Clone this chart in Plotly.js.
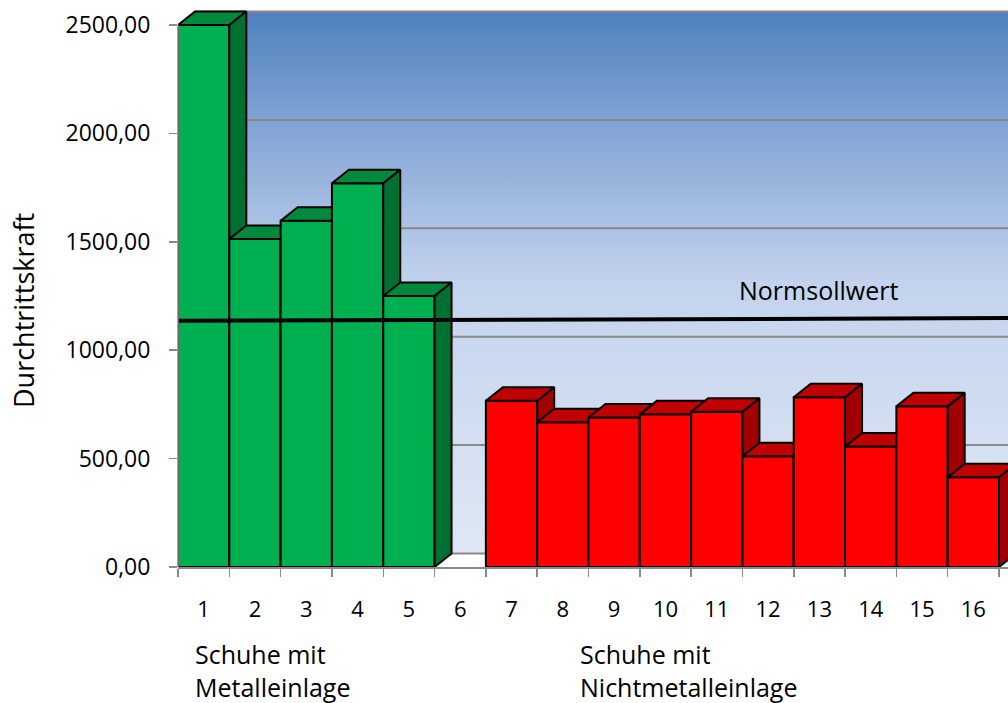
<!DOCTYPE html>
<html>
<head>
<meta charset="utf-8">
<script src="https://cdn.plot.ly/plotly-3.0.1.min.js"></script>
<style>html,body{margin:0;padding:0;background:#fff;}#chart{width:1008px;height:703px;}</style>
</head>
<body>
<div id="chart"></div>
<script>
// ---- data ----
const categories = ['1','2','3','4','5','6','7','8','9','10','11','12','13','14','15','16'];
const values = [2500, 1513, 1597, 1770, 1250, null, 767, 668, 690, 704, 716, 511, 783, 556, 741, 414];
const groupOfCategory = [0,0,0,0,0,null,1,1,1,1,1,1,1,1,1,1];
const groupLabels = [['Schuhe mit','Metalleinlage'], ['Schuhe mit','Nichtmetalleinlage']];
const groupLabelStart = [0.79, 8.3];
const normLabel = 'Normsollwert';
const normValues = [1136, 1148];           // left end, right end
const yTickValues = [0, 500, 1000, 1500, 2000, 2500];
const yTitle = 'Durchtrittskraft';

// ---- style / geometry ----
const W = 1008, H = 703;
const margin = {l: 178, r: 0, t: 10, b: 136};
const plotW = W - margin.l - margin.r, plotH = H - margin.t - margin.b;
const pxPerCat = 821 / categories.length;
const pxPerVal = 542 / 2500;
const xRange = [0.5, 0.5 + plotW / pxPerCat];
const yRange = [0, plotH / pxPerVal];
const depth = {dx: 17 / pxPerCat, dy: 13.5 / pxPerVal};
const faceColors = [
  {front: '#00b050', top: '#00883c', side: '#007032'},
  {front: '#ff0000', top: '#c00000', side: '#a00000'}
];
const fontFamily = '"Open Sans", "Noto Sans", sans-serif';

const traces = [];
// back wall with gradient
const wx0 = 0.5 + depth.dx, wx1 = xRange[1] + depth.dx + 1;
const wy0 = depth.dy, wy1 = yTickValues[yTickValues.length - 1] + depth.dy;
traces.push({
  type: 'scatter', mode: 'lines', x: [wx0, wx1, wx1, wx0, wx0], y: [wy0, wy0, wy1, wy1, wy0],
  fill: 'toself', line: {width: 0, color: 'rgba(0,0,0,0)'},
  fillgradient: {type: 'vertical', colorscale: [[0, '#dfe7f4'], [0.5, '#c3d3ed'], [0.8, '#80a3d4'], [1, '#4f81bd']]},
  hoverinfo: 'skip', showlegend: false
});
// back wall gridlines
yTickValues.forEach(v => {
  traces.push({
    type: 'scatter', mode: 'lines', x: [wx0, wx1], y: [v + depth.dy, v + depth.dy],
    line: {color: '#898989', width: 2}, hoverinfo: 'skip', showlegend: false
  });
});
// 3D bars, painted left to right
categories.forEach((c, i) => {
  const v = values[i];
  if (v === null || v === undefined) return;
  const g = groupOfCategory[i];
  const col = faceColors[g];
  const xc = i + 1, xl = xc - 0.5, xr = xc + 0.5;
  const common = {type: 'scatter', mode: 'lines', fill: 'toself', line: {color: '#000', width: 2}, hoverinfo: 'skip', showlegend: false};
  traces.push(Object.assign({}, common, {x: [xl, xr, xr, xl, xl], y: [0, 0, v, v, 0], fillcolor: col.front}));
  traces.push(Object.assign({}, common, {x: [xl, xr, xr + depth.dx, xl + depth.dx, xl], y: [v, v, v + depth.dy, v + depth.dy, v], fillcolor: col.top}));
  traces.push(Object.assign({}, common, {x: [xr, xr + depth.dx, xr + depth.dx, xr, xr], y: [0, depth.dy, v + depth.dy, v, 0], fillcolor: col.side}));
});
// norm line
traces.push({
  type: 'scatter', mode: 'lines', x: [xRange[0], xRange[1]], y: normValues,
  line: {color: '#000', width: 4}, hoverinfo: 'skip', showlegend: false
});

const annotations = [];
annotations.push({
  xref: 'x', yref: 'y', x: 11.39, y: normValues[1] + 130, text: normLabel,
  xanchor: 'left', yanchor: 'middle', showarrow: false,
  font: {family: fontFamily, size: 25, color: '#000'}
});
annotations.push({
  xref: 'paper', yref: 'paper', x: (23 - margin.l) / plotW, y: (H - margin.b - 311) / plotH,
  text: yTitle, textangle: -90, xanchor: 'center', yanchor: 'middle', showarrow: false,
  font: {family: fontFamily, size: 27, color: '#000'}
});
groupLabels.forEach((lines, gi) => {
  lines.forEach((t, li) => {
    annotations.push({
      xref: 'x', yref: 'paper', x: groupLabelStart[gi], y: (H - margin.b - (654 + li * 33)) / plotH,
      text: t, xanchor: 'left', yanchor: 'middle', showarrow: false,
      font: {family: fontFamily, size: 25, color: '#000'}
    });
  });
});

const boundaries = categories.map((c, i) => i + 0.5).concat([categories.length + 0.5]);

const layout = {
  width: W, height: H, margin: margin,
  paper_bgcolor: '#fff', plot_bgcolor: 'rgba(0,0,0,0)',
  separators: ',.',
  showlegend: false,
  xaxis: {
    range: xRange, fixedrange: true, showgrid: false, zeroline: false,
    tickmode: 'array', tickvals: categories.map((c, i) => i + 1), ticktext: categories,
    ticks: '', ticklabelstandoff: 22,
    tickfont: {family: fontFamily, size: 22, color: '#000'},
    showline: true, linecolor: '#8a8a8a', linewidth: 1.5,
    minor: {tickmode: 'array', tickvals: boundaries, ticks: 'outside', ticklen: 8, tickwidth: 1.5, tickcolor: '#8a8a8a', showgrid: false}
  },
  yaxis: {
    range: yRange, fixedrange: true, showgrid: false, zeroline: false, showline: false,
    tickmode: 'array', tickvals: yTickValues, tickformat: '.2f',
    ticks: 'outside', ticklen: 8, tickwidth: 1.5, tickcolor: '#8a8a8a', ticklabelstandoff: 14,
    tickfont: {family: fontFamily, size: 23, color: '#000'}
  },
  shapes: [{
    type: 'line', xref: 'paper', yref: 'y', x0: 0, x1: 0, y0: 0, y1: yTickValues[yTickValues.length - 1],
    line: {color: '#8a8a8a', width: 1.5}, layer: 'above'
  }],
  annotations: annotations
};

Plotly.newPlot('chart', traces, layout, {displayModeBar: false, staticPlot: true});
</script>
</body>
</html>
